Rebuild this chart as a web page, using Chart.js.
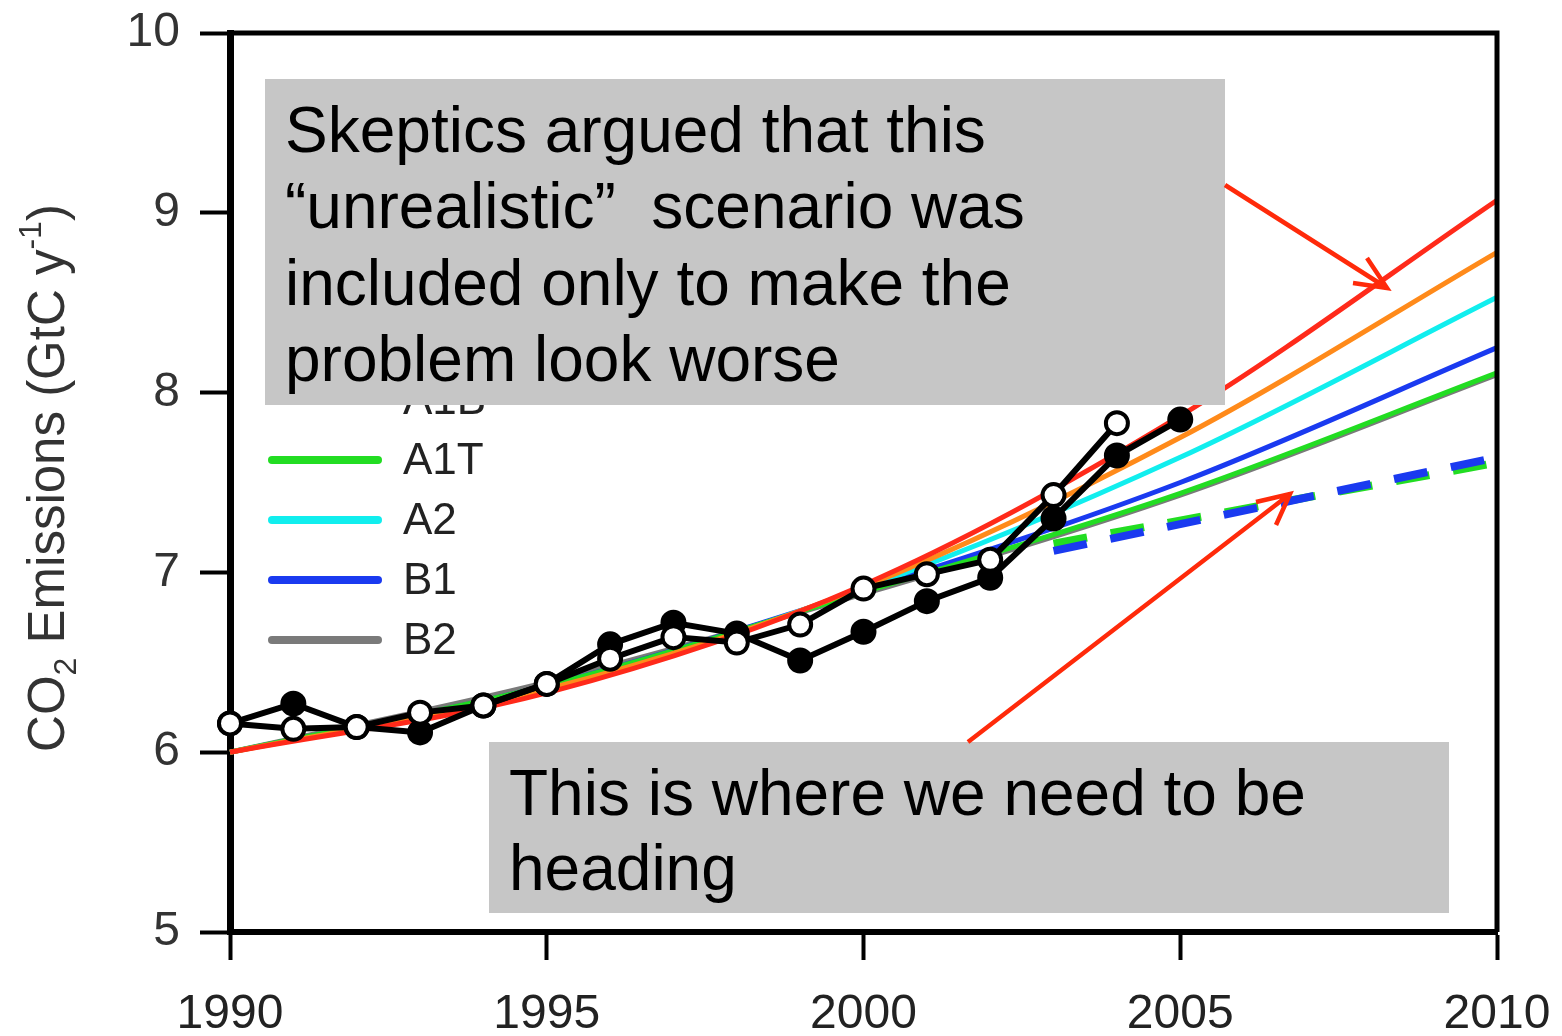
<!DOCTYPE html>
<html>
<head>
<meta charset="utf-8">
<script src="https://cdn.jsdelivr.net/npm/chart.js@4.4.1/dist/chart.umd.min.js"></script>
<style>
  html, body { margin: 0; padding: 0; background: #fff; }
  canvas { display: block; }
</style>
</head>
<body>
<canvas id="myChart" width="1562" height="1036"></canvas>
<script>
// observed emissions (two estimates)
var obsYears = [1990, 1991, 1992, 1993, 1994, 1995, 1996, 1997, 1998, 1999, 2000, 2001, 2002, 2003, 2004, 2005];
var obsOpen = [6.16, 6.13, 6.14, 6.22, 6.26, 6.38, 6.52, 6.64, 6.61, 6.71, 6.91, 6.99, 7.07, 7.43, 7.83, null];
var obsFilled = [6.16, 6.27, 6.14, 6.11, 6.26, 6.38, 6.60, 6.72, 6.66, 6.51, 6.67, 6.84, 6.97, 7.30, 7.65, 7.85];

// SRES scenarios
var scenYears = [1990, 1995, 2000, 2005, 2010];
var a1fi = [6.0, 6.33, 6.93, 7.87, 9.07];
var a1b = [6.0, 6.35, 6.92, 7.75, 8.78];
var a2 = [6.0, 6.36, 6.91, 7.64, 8.53];
var b1 = [6.0, 6.37, 6.90, 7.50, 8.25];
var a1t = [6.0, 6.37, 6.89, 7.44, 8.11];
var b2 = [6.0, 6.39, 6.88, 7.43, 8.10];

// "where we need to be" dashed paths
var targetYears = [2003, 2010];
var targetB1 = [7.12, 7.64];
var targetA1T = [7.16, 7.61];

var xTicks = [1990, 1995, 2000, 2005, 2010];
var yTicks = [5, 6, 7, 8, 9, 10];

function pts(xs, ys) {
    return xs.map(function (x, i) { return { x: x, y: ys[i] }; });
}

function scen(label, color, ys) {
    return {
        label: label,
        data: pts(scenYears, ys),
        borderColor: color,
        borderWidth: 5,
        pointRadius: 0,
        cubicInterpolationMode: 'monotone',
        fill: false,
        order: 10,
        isScenario: true
    };
}

var datasets = [
    scen('A1FI', '#ff2a1a', a1fi),
    scen('A1B', '#ff8a1a', a1b),
    scen('A1T', '#22dd22', a1t),
    scen('A2', '#11eeee', a2),
    scen('B1', '#1a3af0', b1),
    scen('B2', '#7a7a7a', b2),
    {
        label: 'target A1T',
        data: pts(targetYears, targetA1T),
        borderColor: '#22dd22',
        borderWidth: 8,
        borderDash: [34, 24],
        pointRadius: 0,
        order: 6
    },
    {
        label: 'target B1',
        data: pts(targetYears, targetB1),
        borderColor: '#1a3af0',
        borderWidth: 8,
        borderDash: [34, 24],
        pointRadius: 0,
        order: 5
    },
    {
        label: 'obs filled',
        data: pts(obsYears, obsFilled),
        borderColor: '#000',
        borderWidth: 6,
        pointRadius: 11,
        pointBorderWidth: 4,
        pointBackgroundColor: '#000',
        pointBorderColor: '#000',
        order: 2
    },
    {
        label: 'obs open',
        data: pts(obsYears, obsOpen),
        borderColor: '#000',
        borderWidth: 6,
        pointRadius: 11,
        pointBorderWidth: 4,
        pointBackgroundColor: '#fff',
        pointBorderColor: '#000',
        order: 1
    }
];

function arrow(ctx, x1, y1, x2, y2, a1, a2) {
    ctx.beginPath();
    ctx.moveTo(x1, y1);
    ctx.lineTo(x2, y2);
    ctx.moveTo(a1[0], a1[1]);
    ctx.lineTo(x2, y2);
    ctx.lineTo(a2[0], a2[1]);
    ctx.stroke();
}

var overlay = {
    id: 'overlay',
    afterDraw: function (chart) {
        var ctx = chart.ctx;
        var a = chart.chartArea;
        ctx.save();

        // top and right frame
        ctx.strokeStyle = '#000';
        ctx.lineWidth = 5;
        ctx.beginPath();
        ctx.moveTo(a.left, a.top);
        ctx.lineTo(a.right, a.top);
        ctx.lineTo(a.right, a.bottom);
        ctx.stroke();

        // legend
        ctx.font = '44px "Liberation Sans", Arial, sans-serif';
        ctx.fillStyle = '#222';
        ctx.textBaseline = 'middle';
        ctx.textAlign = 'left';
        var rowY = 340;
        chart.data.datasets.forEach(function (ds) {
            if (!ds.isScenario) return;
            ctx.strokeStyle = ds.borderColor;
            ctx.lineWidth = 8;
            ctx.lineCap = 'round';
            ctx.beginPath();
            ctx.moveTo(272, rowY);
            ctx.lineTo(378, rowY);
            ctx.stroke();
            ctx.fillText(ds.label, 403, rowY + 2);
            rowY += 60;
        });
        ctx.lineCap = 'butt';

        // y axis title
        ctx.save();
        ctx.translate(64, 478);
        ctx.rotate(-Math.PI / 2);
        ctx.fillStyle = '#333';
        ctx.textBaseline = 'alphabetic';
        var big = '51px "Liberation Sans", Arial, sans-serif';
        var small = '32px "Liberation Sans", Arial, sans-serif';
        var parts = [['CO', big, 0], ['2', small, 12], [' Emissions (GtC y', big, 0], ['-1', small, -23], [')', big, 0]];
        var total = 0;
        parts.forEach(function (p) { ctx.font = p[1]; total += ctx.measureText(p[0]).width; });
        var x = -total / 2;
        parts.forEach(function (p) {
            ctx.font = p[1];
            ctx.fillText(p[0], x, p[2]);
            x += ctx.measureText(p[0]).width;
        });
        ctx.restore();

        // annotation boxes
        ctx.fillStyle = '#c6c6c6';
        ctx.fillRect(265, 79, 960, 326);
        ctx.fillRect(489, 742, 960, 171);
        ctx.fillStyle = '#000';
        ctx.textBaseline = 'alphabetic';
        ctx.font = '64px "Liberation Sans", Arial, sans-serif';
        ctx.fillText('Skeptics argued that this', 285, 152);
        ctx.fillText('\u201Cunrealistic\u201D  scenario was', 285, 228);
        ctx.fillText('included only to make the', 285, 305);
        ctx.fillText('problem look worse', 285, 381);
        ctx.fillText('This is where we need to be', 509, 815);
        ctx.fillText('heading', 509, 890);

        // arrows
        ctx.strokeStyle = '#ff2a0a';
        ctx.lineWidth = 4.5;
        arrow(ctx, 1225, 185, 1387, 288, [1353, 283], [1367, 258]);
        arrow(ctx, 968, 742, 1290, 494, [1256, 502], [1276, 525]);

        ctx.restore();
    }
};

var ctxMain = document.getElementById('myChart');
var myChart = new Chart(ctxMain, {
    type: 'line',
    data: { datasets: datasets },
    options: {
        responsive: false,
        animation: false,
        devicePixelRatio: 1,
        clip: false,
        layout: { padding: { top: 33, right: 65, left: 0, bottom: 0 } },
        plugins: {
            legend: { display: false },
            tooltip: { enabled: false }
        },
        scales: {
            x: {
                type: 'linear',
                min: 1990,
                max: 2010,
                afterBuildTicks: function (s) { s.ticks = xTicks.map(function (v) { return { value: v }; }); },
                afterFit: function (s) {
                    s.height = 104;
                    s.paddingLeft = 0;
                    s.paddingRight = 0;
                },
                ticks: {
                    font: { family: '"Liberation Sans", Arial, sans-serif', size: 48 },
                    color: '#222',
                    padding: 26,
                    maxRotation: 0,
                    callback: function (v) { return String(v); }
                },
                grid: { drawOnChartArea: false, tickLength: 28, tickWidth: 4, tickColor: '#000' },
                border: { color: '#000', width: 6 }
            },
            y: {
                min: 5,
                max: 10,
                afterBuildTicks: function (s) { s.ticks = yTicks.map(function (v) { return { value: v }; }); },
                afterFit: function (s) {
                    s.width = 230;
                    s.paddingTop = 0;
                    s.paddingBottom = 0;
                },
                ticks: {
                    font: { family: '"Liberation Sans", Arial, sans-serif', size: 48 },
                    color: '#333',
                    padding: 20
                },
                grid: { drawOnChartArea: false, tickLength: 30, tickWidth: 4, tickColor: '#000' },
                border: { color: '#000', width: 7 }
            }
        }
    },
    plugins: [overlay]
});
</script>
</body>
</html>
